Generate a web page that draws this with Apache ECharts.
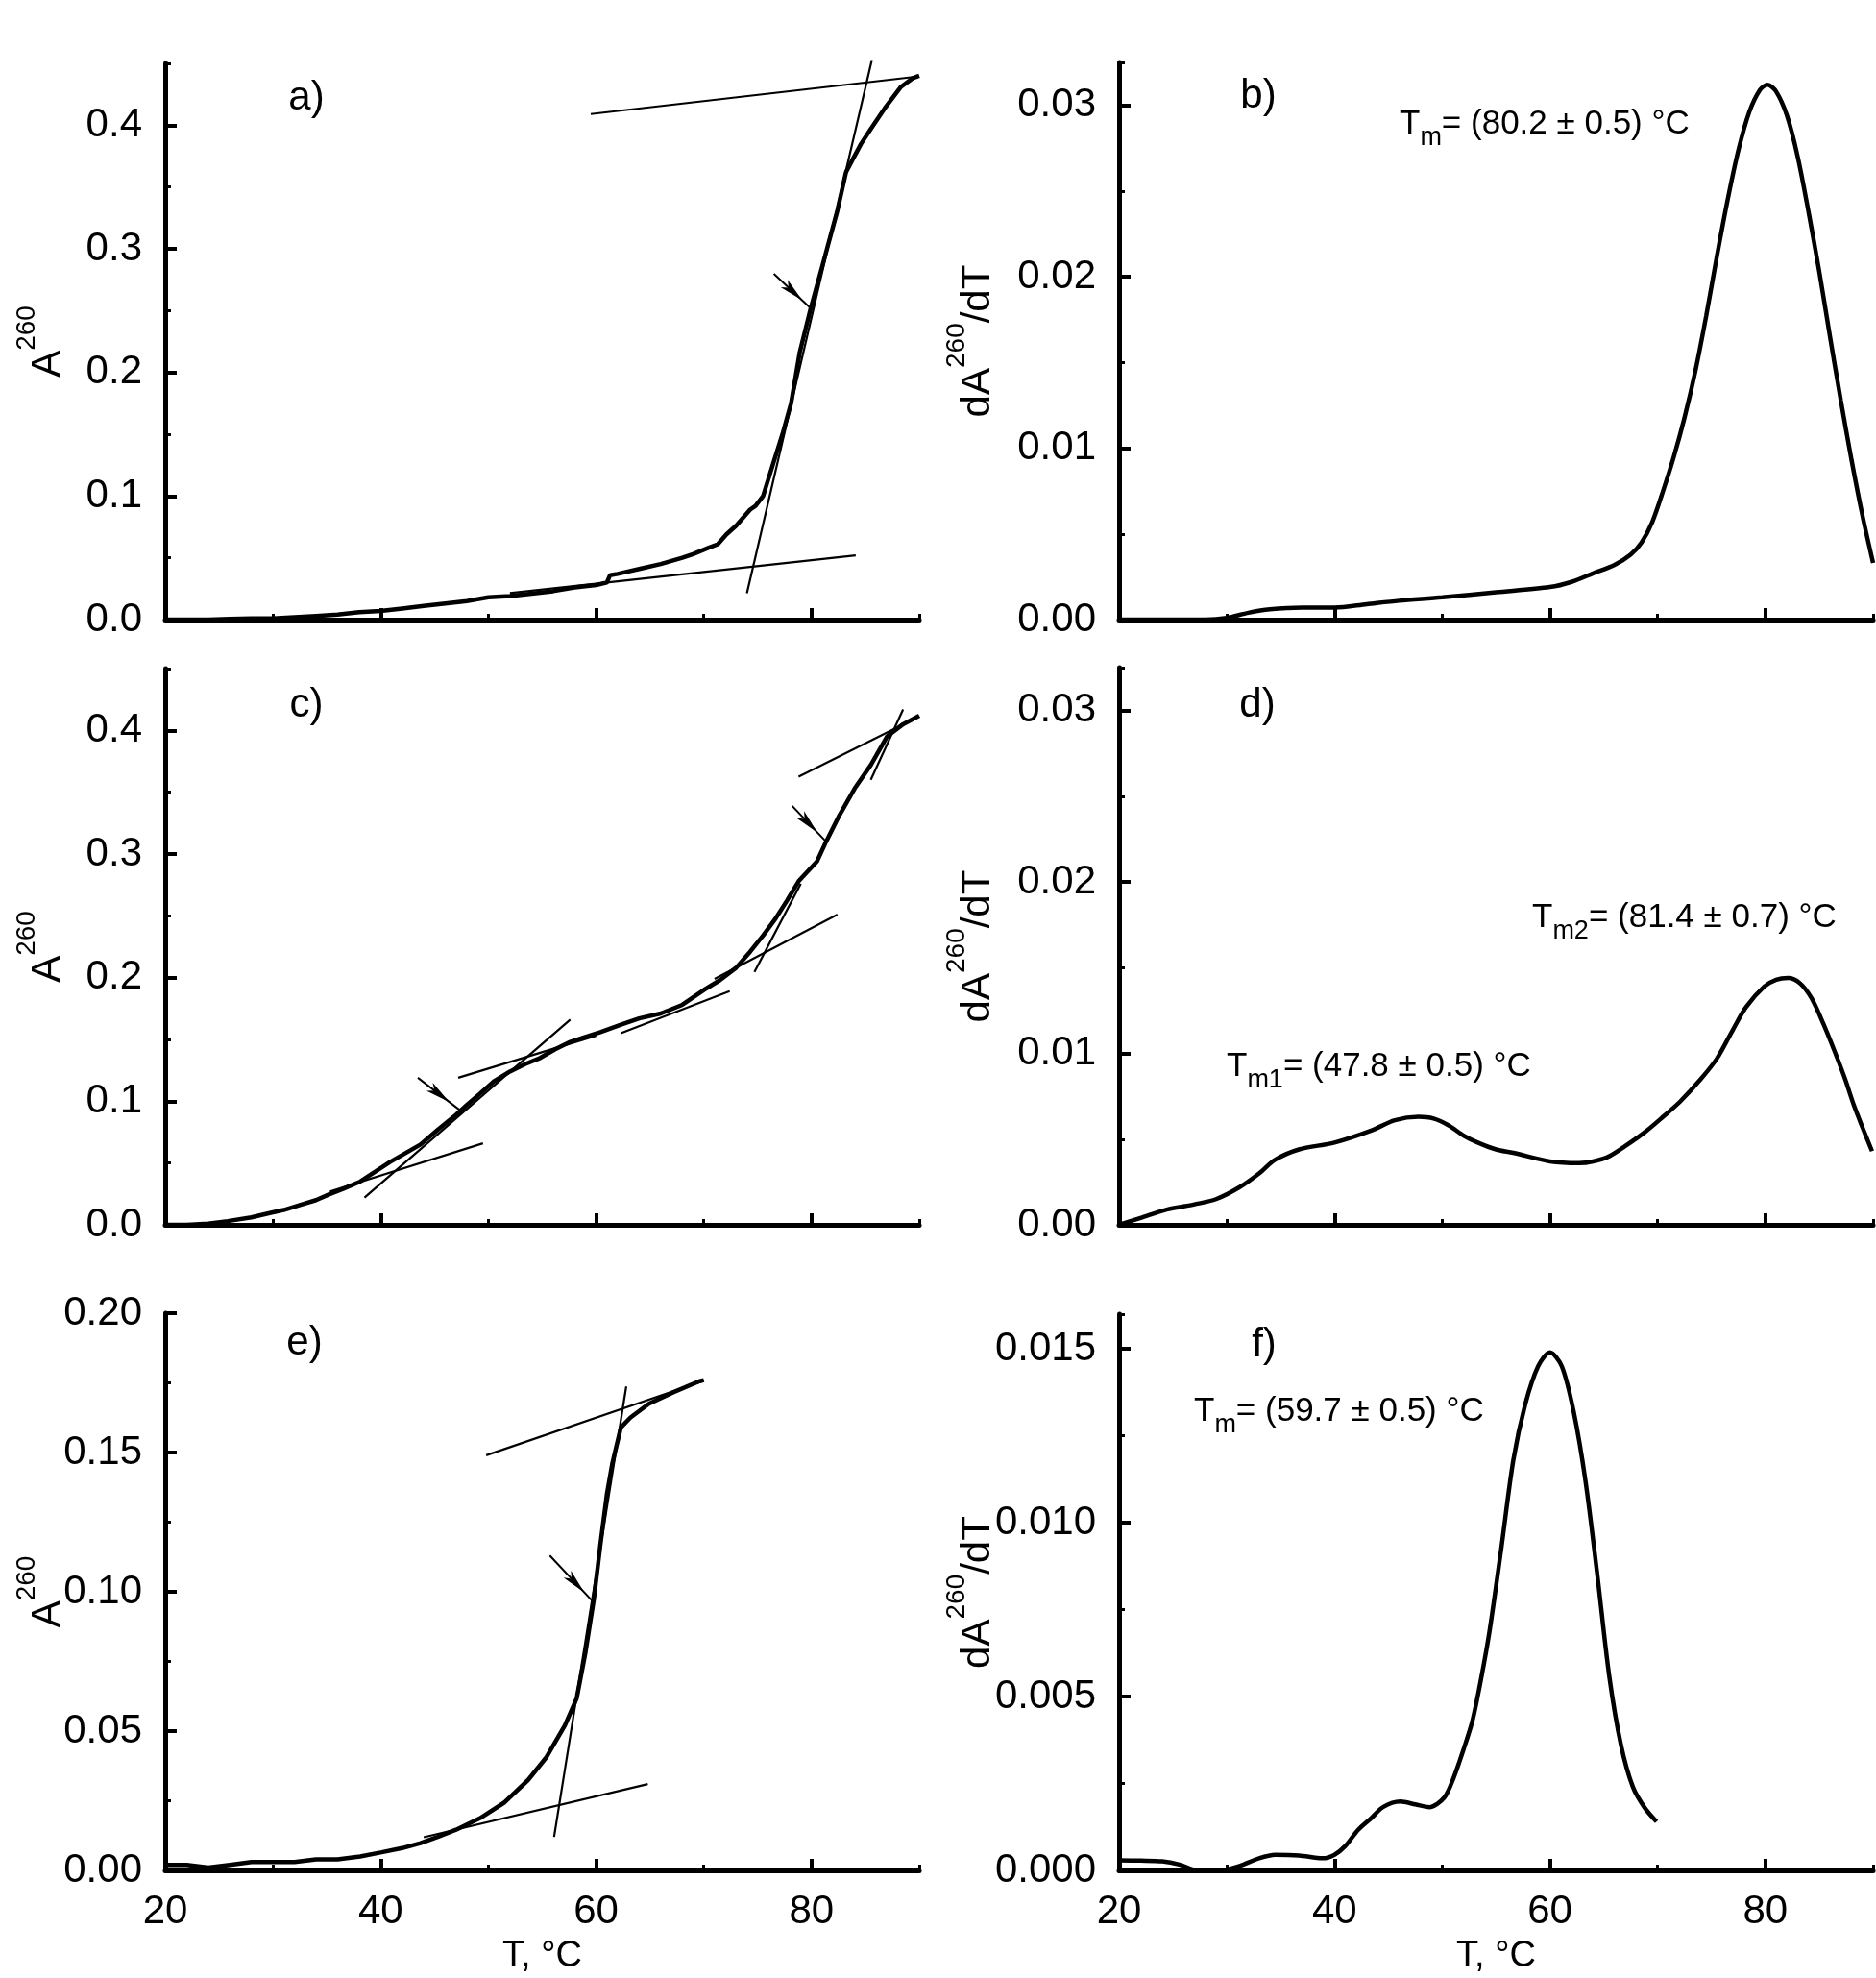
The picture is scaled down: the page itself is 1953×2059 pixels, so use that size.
<!DOCTYPE html>
<html><head><meta charset="utf-8">
<script src="https://cdn.jsdelivr.net/npm/echarts@6/dist/echarts.min.js"></script>
<style>html,body{margin:0;padding:0;background:#fff}#c{width:1953px;height:2059px}</style>
</head><body><div id="c"></div>
<script>
// ---------------- DATA ----------------
// panel a: A260 vs T
const curveA = [[20,0.000],[22,0.000],[24,0.000],[26,0.0005],[28,0.001],[30,0.001],[32,0.002],[34,0.003],[36,0.004],[38,0.006],[40,0.007],[42,0.009],[44,0.011],[46,0.013],[48,0.015],[50,0.018],[52,0.019],[54,0.021],[56,0.023],[58,0.026],[60,0.028],[61,0.030],[61.3,0.036],[62,0.037],[64,0.041],[66,0.045],[68,0.050],[69,0.053],[70.4,0.058],[71.3,0.061],[72.1,0.069],[73,0.076],[74.3,0.089],[74.8,0.092],[75.5,0.100],[76.5,0.128],[77.3,0.150],[78.1,0.175],[78.9,0.216],[79.9,0.251],[81.0,0.286],[82.4,0.331],[83.2,0.362],[83.8,0.372],[84.6,0.385],[85.5,0.397],[86.9,0.415],[88.3,0.431],[89.4,0.438],[90,0.440]];
const tangentsA = [[[59.5,0.409],[89.8,0.4393]],[[52,0.0214],[84.1,0.052]],[[74.0,0.0213],[85.6,0.4527]]];
const arrowsA = [[[76.5,0.2798],[80.0,0.2513]]];
// panel b: dA260/dT
const derivB = [[20,0],[24,0],[28,0],[30,0.0001],[32,0.0004],[34,0.0006],[37,0.0007],[40,0.0007],[43,0.0009],[46,0.0011],[50,0.0013],[55,0.0016],[60,0.0019],[62,0.0022],[64,0.0027],[66,0.0032],[67.5,0.0038],[68.5,0.0045],[69.5,0.0057],[70.5,0.0075],[71.5,0.0095],[72.5,0.0118],[73.5,0.0145],[74.5,0.0177],[75.5,0.0212],[76.5,0.0245],[77.5,0.0274],[78.5,0.0296],[79.5,0.0309],[80.2,0.0312],[81,0.0308],[82,0.0294],[83,0.0270],[84,0.0238],[85,0.0203],[86,0.0165],[87,0.0128],[88,0.0093],[89,0.0061],[90,0.0033]];
// panel c
const curveC = [[20,0.000],[22,0.000],[24,0.001],[25.8,0.003],[28,0.006],[29.7,0.0095],[31,0.012],[32.5,0.016],[34,0.020],[35.3,0.025],[36.5,0.029],[38.1,0.035],[39.5,0.043],[40.9,0.051],[42.3,0.058],[43.7,0.065],[45.3,0.077],[47.0,0.089],[48,0.097],[49.2,0.106],[50.5,0.116],[52.0,0.124],[53.4,0.130],[54.8,0.135],[56.2,0.142],[57.6,0.148],[59,0.152],[60.4,0.156],[62.3,0.162],[64,0.167],[66,0.171],[68,0.178],[70,0.190],[71.5,0.198],[73,0.208],[74.3,0.221],[75.5,0.234],[76.6,0.247],[77.7,0.262],[78.8,0.278],[80.5,0.294],[81.35,0.310],[82.5,0.330],[84.0,0.353],[85.5,0.372],[87.0,0.395],[88.5,0.405],[90,0.412]];
const tangentsC = [[[35.3,0.027],[49.5,0.066]],[[38.5,0.022],[57.6,0.166]],[[47.2,0.119],[60,0.153]],[[62.3,0.155],[72.4,0.189]],[[71,0.199],[82.4,0.251]],[[74.7,0.2046],[79,0.276]],[[78.8,0.3626],[90,0.4113]],[[85.5,0.36],[88.5,0.417]]];
const arrowsC = [[[43.45,0.119],[47.3,0.0932]],[[78.2,0.339],[81.35,0.310]]];
// panel d
const derivD = [[20,0],[22,0.0004],[24.5,0.0009],[27,0.0012],[29,0.0015],[31.2,0.0022],[33,0.0030],[34.5,0.0038],[36.7,0.0044],[40,0.0048],[43.4,0.0055],[45.6,0.0061],[47.8,0.0063],[49.2,0.0062],[50.6,0.0058],[52,0.0052],[53.3,0.0048],[55,0.0044],[56.6,0.0042],[60,0.0037],[62.7,0.0036],[64,0.0037],[65.5,0.0040],[67,0.0046],[68.8,0.0054],[70.5,0.0063],[72.1,0.0072],[74,0.0085],[75.5,0.0097],[77,0.0114],[78.2,0.0127],[79.9,0.0139],[81,0.0143],[82.1,0.0144],[83.2,0.0141],[84.3,0.0132],[85.4,0.0117],[86.5,0.0100],[87.4,0.0085],[88.2,0.0070],[89,0.0057],[89.9,0.0043]];
// panel e
const curveE = [[20,0.002],[22,0.002],[24,0.001],[26,0.002],[28,0.003],[30,0.003],[32,0.003],[34,0.004],[36,0.004],[38.1,0.005],[40.1,0.0065],[42,0.008],[43.7,0.0098],[45.3,0.012],[47.0,0.0146],[49.2,0.0187],[51.5,0.0244],[53.7,0.0325],[55.4,0.0407],[57.1,0.052],[58.2,0.0618],[59.0,0.078],[59.8,0.0976],[60.4,0.117],[61.0,0.135],[61.5,0.146],[62.3,0.159],[63.2,0.1626],[64.9,0.1675],[67.1,0.1715],[69.6,0.1756],[70,0.176]];
const tangentsE = [[[44,0.0119],[64.8,0.031]],[[56.1,0.012],[62.8,0.1737]],[[49.8,0.149],[69.9,0.1756]]];
const arrowsE = [[[55.7,0.113],[59.7,0.0965]]];
// panel f
const derivF = [[20,0.00029],[22,0.00028],[24,0.00026],[25.6,0.00017],[27.3,0.0],[29.5,0.0],[31.2,0.00013],[33,0.00035],[34.5,0.00045],[36.7,0.00043],[38.9,0.00035],[40,0.00045],[41,0.0007],[42.2,0.00117],[43.4,0.0015],[44.5,0.00182],[46.1,0.00198],[47.5,0.0019],[48.8,0.00182],[50.2,0.0021],[51.1,0.0027],[52,0.0035],[52.8,0.0043],[53.6,0.0055],[54.4,0.0069],[55.5,0.0093],[56.6,0.0118],[57.7,0.0134],[58.9,0.0145],[60.0,0.0149],[61.1,0.0145],[62.2,0.0132],[63.3,0.0112],[64.4,0.0085],[65.5,0.0056],[66.6,0.0036],[67.7,0.0024],[68.8,0.0018],[69.9,0.0014]];

// ticks / labels
const xMajorTicks = [20,40,60,80];
const yMajorA = [0,0.1,0.2,0.3,0.4];
const yMajorB = [0,0.01,0.02,0.03];
const yMajorE = [0,0.05,0.10,0.15,0.20];
const yMajorF = [0,0.005,0.010,0.015];
const panelLetters = ['a)','b)','c)','d)','e)','f)'];
const tmB = '{t|T}{s|m}{t|= (80.2 ± 0.5) °C}';
const tmD1 = '{t|T}{s|m1}{t|= (47.8 ± 0.5) °C}';
const tmD2 = '{t|T}{s|m2}{t|= (81.4 ± 0.7) °C}';
const tmF = '{t|T}{s|m}{t|= (59.7 ± 0.5) °C}';
const nameLeft = '{m|A}{s|260}';
const nameRight = '{m|dA}{s|260}{m|/dT}';
const xName = 'T, °C';

// ---------------- CHART ----------------
const FONT = 'Liberation Sans, Arial, Helvetica, sans-serif';
const BLACK = '#000';
const chart = echarts.init(document.getElementById('c'), null, {renderer:'canvas', width:1953, height:2059});

const panels = [
  {curve:curveA, smooth:false, tangents:tangentsA, arrows:arrowsA, yMax:0.45, yMajor:yMajorA, yMinor:0.05, yDec:1, grid:{left:172, top:66, width:785, height:579}, xLabels:false, name:nameLeft, nameGap:101},
  {curve:derivB, smooth:0.3, tangents:[], arrows:[], yMax:0.0325, yMajor:yMajorB, yMinor:0.005, yDec:2, grid:{left:1165, top:65, width:785, height:580}, xLabels:false, name:nameRight, nameGap:126},
  {curve:curveC, smooth:false, tangents:tangentsC, arrows:arrowsC, yMax:0.45, yMajor:yMajorA, yMinor:0.05, yDec:1, grid:{left:172, top:696, width:785, height:579}, xLabels:false, name:nameLeft, nameGap:101},
  {curve:derivD, smooth:0.3, tangents:[], arrows:[], yMax:0.0325, yMajor:yMajorB, yMinor:0.005, yDec:2, grid:{left:1165, top:695, width:785, height:580}, xLabels:false, name:nameRight, nameGap:126},
  {curve:curveE, smooth:false, tangents:tangentsE, arrows:arrowsE, yMax:0.2, yMajor:yMajorE, yMinor:0.025, yDec:2, grid:{left:172, top:1367, width:785, height:580}, xLabels:true, name:nameLeft, nameGap:101},
  {curve:derivF, smooth:0.3, tangents:[], arrows:[], yMax:0.016, yMajor:yMajorF, yMinor:0.0025, yDec:3, grid:{left:1165, top:1368, width:785, height:579}, xLabels:true, name:nameRight, nameGap:126}
];

const grids = [], xAxes = [], yAxes = [], series = [];
const nameRich = {
  m:{fontSize:42, lineHeight:42, fontFamily:FONT, color:BLACK, verticalAlign:'middle'},
  s:{fontSize:28, lineHeight:28, fontFamily:FONT, color:BLACK, verticalAlign:'middle', padding:[0,0,44,0]}
};

panels.forEach((p, i) => {
  grids.push(Object.assign({containLabel:false, outerBoundsMode:'none'}, p.grid));
  // major x axis
  xAxes.push({
    gridIndex:i, type:'value', min:20, max:90, interval:20, position:'bottom',
    axisLine:{show:true, onZero:false, lineStyle:{color:BLACK, width:5}},
    axisTick:{show:true, inside:true, length:12, customValues:xMajorTicks, lineStyle:{color:BLACK, width:4}},
    axisLabel:{show:p.xLabels, customValues:xMajorTicks, margin:22, fontSize:42, color:BLACK, fontFamily:FONT},
    splitLine:{show:false},
    name: p.xLabels ? xName : '', nameLocation:'middle', nameGap:71, nameMoveOverlap:false,
    nameTextStyle:{fontSize:38, color:BLACK, fontFamily:FONT}
  });
  // minor x axis
  xAxes.push({
    gridIndex:i, type:'value', min:20, max:90, interval:10, position:'bottom',
    axisLine:{show:false}, axisTick:{show:true, inside:true, length:6, lineStyle:{color:BLACK, width:3}},
    axisLabel:{show:false}, splitLine:{show:false}
  });
  // major y axis
  yAxes.push({
    gridIndex:i, type:'value', min:0, max:p.yMax, position:'left',
    axisLine:{show:true, onZero:false, lineStyle:{color:BLACK, width:5}},
    axisTick:{show:true, inside:true, length:12, customValues:p.yMajor, lineStyle:{color:BLACK, width:4}},
    axisLabel:{show:true, customValues:p.yMajor, margin:24, fontSize:42, color:BLACK, fontFamily:FONT,
      formatter:(v)=>Number(v).toFixed(p.yDec)},
    splitLine:{show:false},
    name:p.name, nameLocation:'middle', nameRotate:90, nameGap:p.nameGap, nameMoveOverlap:false,
    nameTextStyle:{fontFamily:FONT, color:BLACK, rich:nameRich}
  });
  // minor y axis
  yAxes.push({
    gridIndex:i, type:'value', min:0, max:p.yMax, interval:p.yMinor, position:'left',
    axisLine:{show:false}, axisTick:{show:true, inside:true, length:6, lineStyle:{color:BLACK, width:3}},
    axisLabel:{show:false}, splitLine:{show:false}
  });
  const xi = 2*i, yi = 2*i;
  series.push({
    type:'line', xAxisIndex:xi, yAxisIndex:yi, data:p.curve, symbol:'none', showSymbol:false,
    smooth:p.smooth, lineStyle:{color:BLACK, width:4.5}, z:3, silent:true,
    markLine: p.arrows.length ? {
      silent:true, symbol:['none','arrow'], label:{show:false},
      lineStyle:{type:'solid', color:BLACK, width:2}, animation:false,
      data: p.arrows.map(a => [
        {coord:a[0], symbol:'none'},
        {coord:a[1], symbol:'arrow', symbolSize:[8,26], symbolOffset:[0,13]}
      ])
    } : undefined
  });
  p.tangents.forEach(t => {
    series.push({type:'line', xAxisIndex:xi, yAxisIndex:yi, data:t, symbol:'none', showSymbol:false,
      lineStyle:{color:BLACK, width:2.2}, clip:false, z:2, silent:true});
  });
});

const letterPos = [[319,102],[1310,100],[319,734],[1309,734],[317,1398],[1316,1400]];
const graphic = panelLetters.map((t, i) => ({
  type:'text', x:letterPos[i][0], y:letterPos[i][1], z:10,
  style:{text:t, font:'42px ' + FONT, fill:BLACK, textAlign:'center', textVerticalAlign:'middle'}
}));
const tmRich = {
  t:{fontSize:35, lineHeight:35, fontFamily:FONT, fill:BLACK, color:BLACK, verticalAlign:'middle'},
  s:{fontSize:27, lineHeight:27, fontFamily:FONT, fill:BLACK, color:BLACK, verticalAlign:'middle', padding:[29,0,0,0]}
};
[[tmB,1457,129],[tmD2,1595,955],[tmD1,1277,1110],[tmF,1243,1469]].forEach(([txt,x,y]) => {
  graphic.push({type:'text', x:x, y:y, z:10,
    style:{text:txt, rich:tmRich, fill:BLACK, fontFamily:FONT, fontSize:35, textAlign:'left', textVerticalAlign:'middle'}});
});

chart.setOption({
  animation:false,
  backgroundColor:'#ffffff',
  textStyle:{fontFamily:FONT, color:BLACK},
  grid:grids, xAxis:xAxes, yAxis:yAxes, series:series, graphic:graphic
});
</script></body></html>
